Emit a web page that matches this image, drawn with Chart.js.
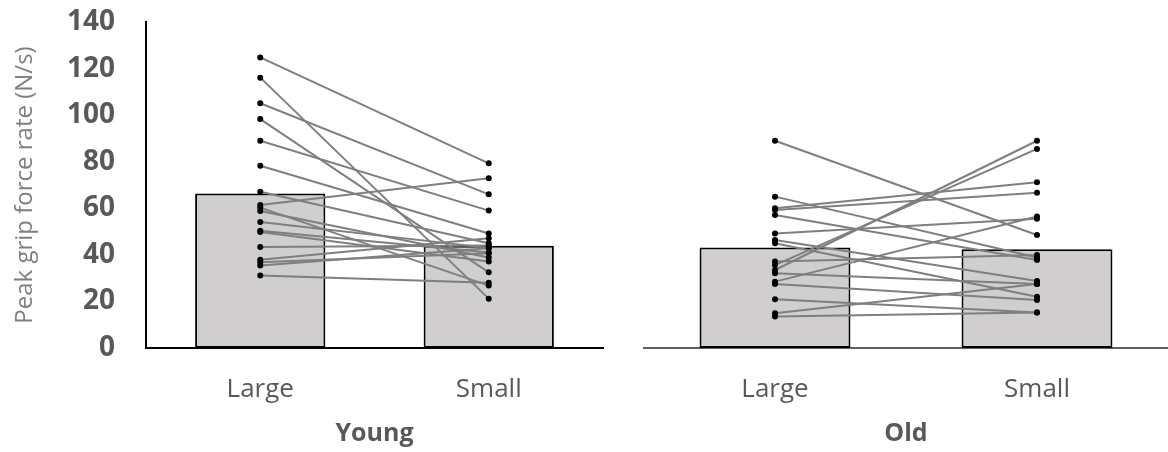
<!DOCTYPE html>
<html>
<head>
<meta charset="utf-8">
<script src="https://cdn.jsdelivr.net/npm/chart.js@4/dist/chart.umd.min.js"></script>
<style>
  html, body { margin: 0; padding: 0; background: #fff; overflow: hidden; }
  #wrap { position: relative; width: 1168px; height: 452px; overflow: hidden; }
  canvas { position: absolute; top: 0; }
  #young { left: 0; }
  #old { left: 620px; }
</style>
</head>
<body>
<div id="wrap">
  <canvas id="young" width="620" height="452"></canvas>
  <canvas id="old" width="552" height="452"></canvas>
</div>
<script>
const categories = ['Large', 'Small'];
const yMax = 140;
const yStep = 20;

// group means (bars)
const youngMeans = [66.4, 43.9];
const oldMeans = [43.2, 42.4];

// individual subjects, paired Large -> Small
const youngLarge = [124.8, 116.1, 105.1, 98.3, 89.0, 78.3, 67.1, 61.4, 60.3, 58.8, 54.1, 50.4, 49.8, 43.4, 37.9, 36.8, 35.4, 31.1];
const youngSmall = [79.3, 21.2, 66.0, 32.5, 59.0, 49.2, 45.0, 72.9, 26.8, 38.9, 43.0, 41.0, 37.1, 44.0, 47.1, 40.7, 42.8, 28.0];

const oldLarge = [89.0, 65.0, 60.0, 59.3, 57.1, 49.2, 46.4, 45.0, 37.1, 35.6, 33.5, 32.1, 28.5, 27.5, 20.9, 14.9, 13.5];
const oldSmall = [48.5, 38.9, 71.2, 66.7, 37.8, 55.5, 28.8, 22.0, 39.9, 85.5, 89.0, 27.5, 56.5, 20.6, 15.2, 27.5, 15.2];

const FONT = "'Open Sans', 'DejaVu Sans', sans-serif";
const GREY_TXT = '#595959';

function subjectSets(large, small) {
  return large.map((v, i) => ({
    type: 'line',
    data: [v, small[i]],
    borderColor: '#7f7f7f',
    borderWidth: 2,
    pointRadius: 3,
    pointBorderWidth: 0,
    pointBackgroundColor: '#000',
    order: 0,
  }));
}

function makeChart(id, means, large, small, title, showY, barPct, pad, xBorder) {
  const ctx = document.getElementById(id).getContext('2d');
  return new Chart(ctx, {
    type: 'bar',
    data: {
      labels: categories,
      datasets: [
        {
          type: 'bar',
          data: means,
          backgroundColor: '#d0cece',
          borderColor: '#000',
          borderWidth: 2,
          borderSkipped: false,
          barPercentage: barPct,
          categoryPercentage: 1.0,
          order: 1,
        },
        ...subjectSets(large, small),
      ],
    },
    options: {
      responsive: false,
      animation: false,
      devicePixelRatio: 1,
      layout: { padding: pad },
      plugins: { legend: { display: false }, tooltip: { enabled: false } },
      scales: {
        x: {
          // tick marks are hidden with the grid; tickLength only makes the gap
          grid: { display: false, drawTicks: true, tickLength: 26 },
          border: { display: true, color: xBorder, width: 2 },
          ticks: { color: GREY_TXT, font: { family: FONT, size: 26 }, padding: 0 },
          title: {
            display: true,
            text: title,
            color: GREY_TXT,
            font: { family: FONT, size: 25, weight: 'bold' },
            padding: { top: 0, bottom: 3 },
          },
          afterFit: (s) => { s.height = 104; },
        },
        y: {
          display: showY,
          min: 0,
          max: yMax,
          grid: { display: false, drawTicks: true, tickLength: 31 },
          border: { display: true, color: '#000', width: 2 },
          ticks: {
            stepSize: yStep,
            color: GREY_TXT,
            font: { family: FONT, size: 28, weight: 'bold' },
            padding: 0,
          },
          title: {
            display: true,
            text: 'Peak grip force rate (N/s)',
            color: '#7f7f7f',
            font: { family: FONT, size: 24 },
            padding: { top: 11, bottom: 0 },
          },
          afterFit: (s) => { s.width = showY ? 146 : 0; },
        },
      },
    },
  });
}

makeChart('young', youngMeans, youngLarge, youngSmall, 'Young', true, 0.57,
  { top: 22, left: 0, right: 17, bottom: 0 }, '#000');
makeChart('old', oldMeans, oldLarge, oldSmall, 'Old', false, 0.576,
  { top: 22, left: 24, right: 0, bottom: 0 }, '#606060');
</script>
</body>
</html>
